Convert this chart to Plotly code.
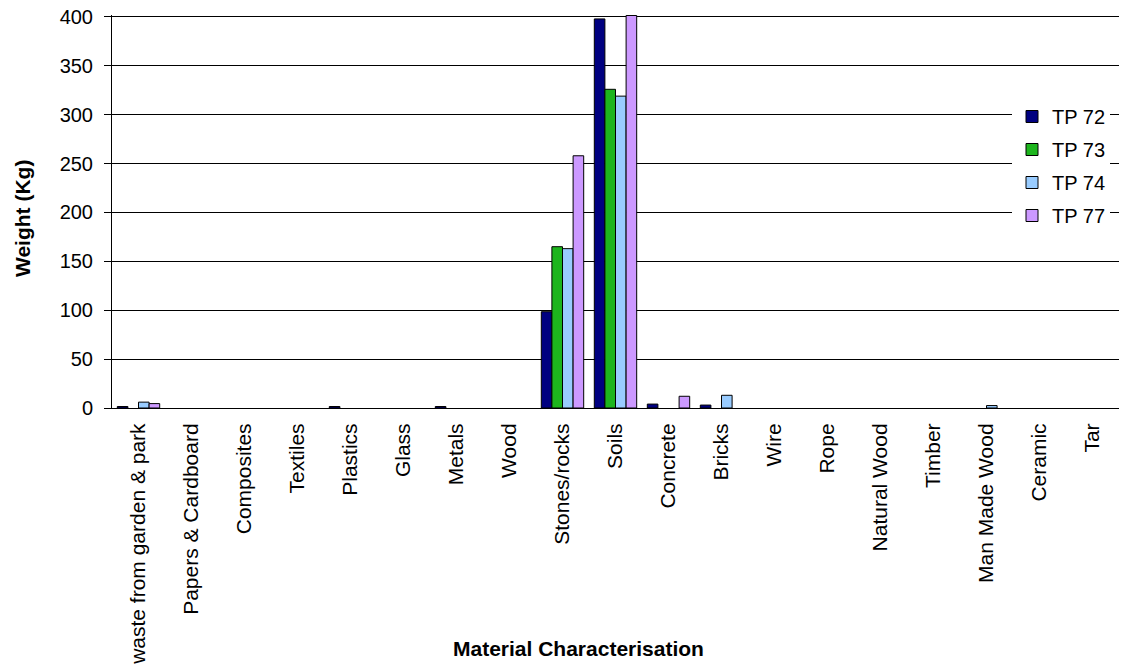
import plotly.graph_objects as go

# Material categories along the x axis
categories = [
    "waste from garden & park", "Papers & Cardboard", "Composites", "Textiles",
    "Plastics", "Glass", "Metals", "Wood", "Stones/rocks", "Soils", "Concrete",
    "Bricks", "Wire", "Rope", "Natural Wood", "Timber", "Man Made Wood",
    "Ceramic", "Tar",
]

# Weight (Kg) per trial pit; None = nothing recorded
tp72 = [1.5, None, None, None, 1.5, None, 1.5, None, 98.5, 398, 4, 3,
        None, None, None, None, None, None, None]
tp73 = [None, None, None, None, None, None, None, None, 165, 326, None, None,
        None, None, None, None, None, None, None]
tp74 = [6, None, None, None, None, None, None, None, 163, 319, None, 13,
        None, None, None, None, 2.5, None, None]
tp77 = [4.5, None, None, None, None, None, None, None, 258, 401.5, 12, None,
        None, None, None, None, None, None, None]

series = [
    ("TP 72", tp72, "#000080"),
    ("TP 73", tp73, "#1DB51D"),
    ("TP 74", tp74, "#99CCFF"),
    ("TP 77", tp77, "#CC99FF"),
]

y_ticks = [0, 50, 100, 150, 200, 250, 300, 350, 400]

FONT = "Liberation Sans, Arial, sans-serif"

# plot area in pixels
L, R, T, B = 112, 1119, 15, 408
PW, PH = R - L, B - T

fig = go.Figure()
for name, vals, color in series:
    fig.add_trace(go.Bar(
        name=name, x=categories, y=vals, legendgroup=name,
        marker=dict(color=color, line=dict(color="#000000", width=1)),
    ))

fig.update_layout(
    width=1121, height=664,
    margin=dict(l=L, r=1121 - R, t=T, b=664 - B, autoexpand=False),
    paper_bgcolor="white", plot_bgcolor="white",
    barmode="group", bargap=0.2, bargroupgap=0,
    font=dict(family=FONT, size=20, color="#000000"),
    showlegend=True,
    legend=dict(
        x=(1012 - L) / PW, y=(B - 97) / PH, xanchor="left", yanchor="top",
        bgcolor="white", borderwidth=0,
        font=dict(family=FONT, size=20, color="#000000"),
        traceorder="grouped", tracegroupgap=4,
    ),
    xaxis=dict(
        showline=True, linecolor="#000000", linewidth=1,
        showgrid=False, ticks="", tickangle=-90,
        tickfont=dict(family=FONT, size=21),
        ticklabelstandoff=6,
        automargin=False,
    ),
    yaxis=dict(
        range=[0, 402], tickvals=y_ticks,
        showline=True, linecolor="#000000", linewidth=1,
        showgrid=True, gridcolor="#000000", gridwidth=1,
        ticks="outside", ticklen=7, tickcolor="#000000",
        tickfont=dict(family=FONT, size=20),
        ticklabelstandoff=7,
        zeroline=False, automargin=False,
    ),
    annotations=[
        dict(text="<b>Weight (Kg)</b>", textangle=-90,
             xref="paper", yref="paper",
             x=(22 - L) / PW, y=(B - 219) / PH,
             xanchor="center", yanchor="middle", showarrow=False,
             font=dict(family=FONT, size=21)),
        dict(text="<b>Material Characterisation</b>",
             xref="paper", yref="paper",
             x=(578 - L) / PW, y=(B - 648) / PH,
             xanchor="center", yanchor="middle", showarrow=False,
             font=dict(family=FONT, size=21)),
    ],
)

fig.write_html("out.html")
